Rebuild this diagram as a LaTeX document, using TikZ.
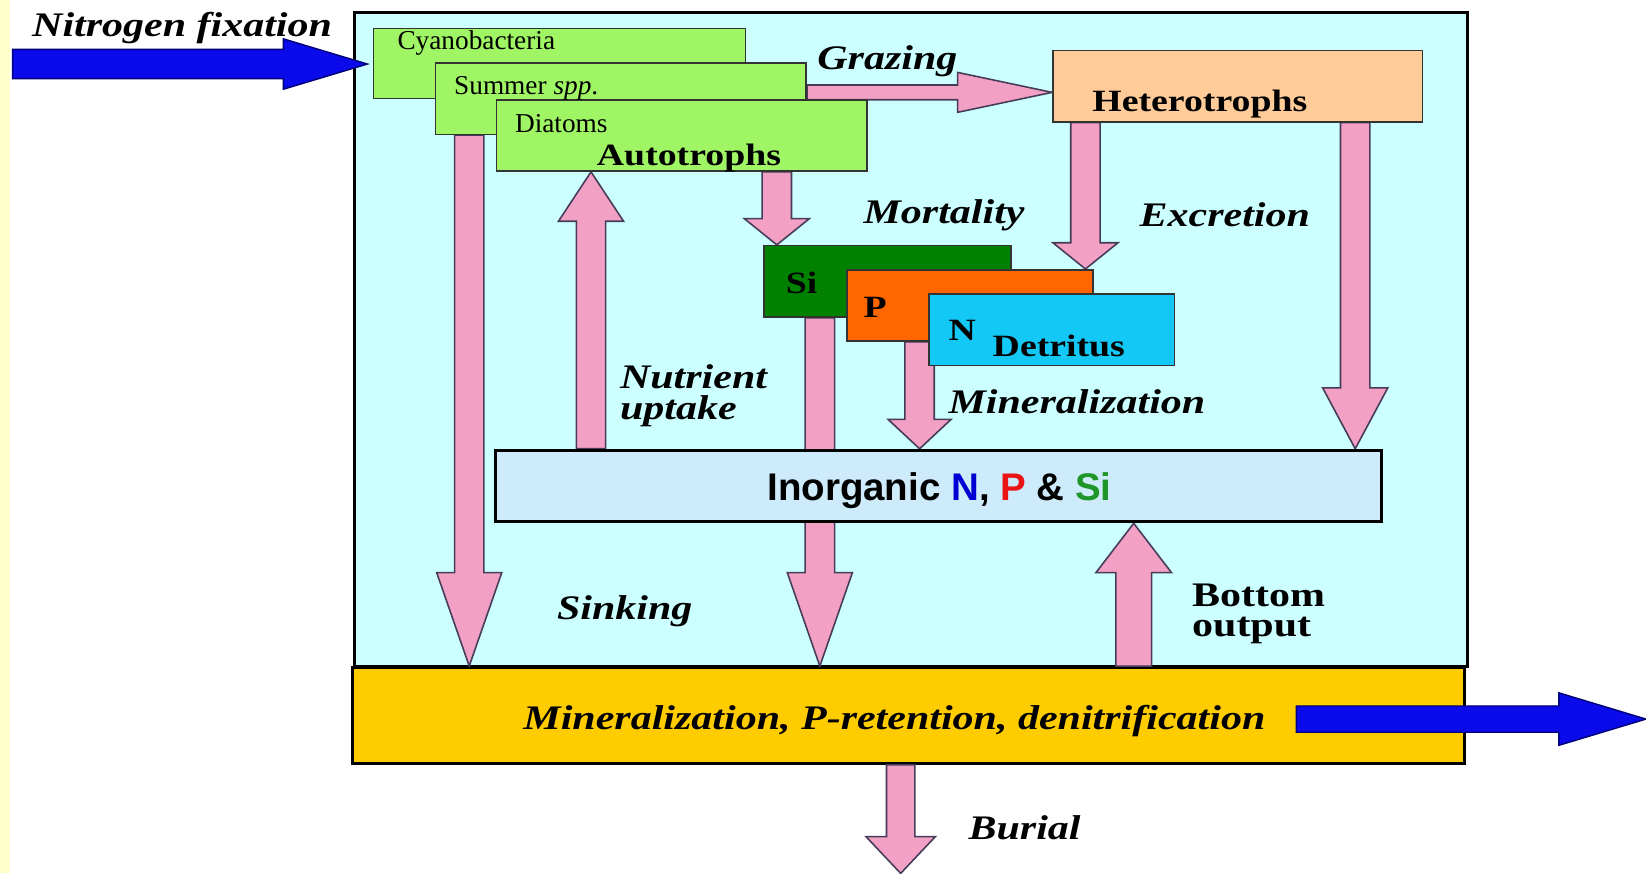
\documentclass[tikz,border=0pt]{standalone}
\usepackage{fontspec}
\setmainfont{Liberation Serif}
\setsansfont{Liberation Sans}
\usetikzlibrary{calc,fit}
\pgfdeclarelayer{bg}\pgfdeclarelayer{arr}
\pgfsetlayers{bg,arr,main}
\definecolor{stripe}{RGB}{255,255,204}
\definecolor{cyanbg}{RGB}{204,255,255}
\definecolor{sedgold}{RGB}{255,204,0}
\definecolor{autogreen}{RGB}{160,245,100}
\definecolor{peach}{RGB}{255,204,153}
\definecolor{sigreen}{RGB}{0,130,0}
\definecolor{porange}{RGB}{255,102,0}
\definecolor{ndet}{RGB}{20,200,245}
\definecolor{inorgbg}{RGB}{205,235,250}
\definecolor{pinkfill}{RGB}{242,160,196}
\definecolor{pinkline}{RGB}{70,60,90}
\definecolor{bluefill}{RGB}{10,10,235}
\definecolor{blueline}{RGB}{0,0,120}
\definecolor{tN}{RGB}{0,0,210}
\definecolor{tP}{RGB}{235,20,20}
\definecolor{tSi}{RGB}{30,150,40}
\newcommand\sq[1]{\scalebox{1}[0.82]{#1}}
% vertical block arrow: x, from, to, signed head offset, head half width, shaft half width, style
\newcommand\varr[7]{%
 \draw[#7] (#1-#6,0 |- #2) -- ($(#1-#6,0 |- #3)+(0,#4)$) -- ($(#1-#5,0 |- #3)+(0,#4)$)
   -- (#1,0 |- #3) -- ($(#1+#5,0 |- #3)+(0,#4)$) -- ($(#1+#6,0 |- #3)+(0,#4)$)
   -- (#1+#6,0 |- #2) -- cycle;}
% horizontal block arrow: y, from, to, signed head offset, head half height, shaft half height, style
\newcommand\harr[7]{%
 \draw[#7] (#2 |- 0,#1-#6) -- ($(#3 |- 0,#1-#6)+(#4,0)$) -- ($(#3 |- 0,#1-#5)+(#4,0)$)
   -- (#3 |- 0,#1) -- ($(#3 |- 0,#1+#5)+(#4,0)$) -- ($(#3 |- 0,#1+#6)+(#4,0)$)
   -- (#2 |- 0,#1+#6) -- cycle;}
\begin{document}
\begin{tikzpicture}[x=0.3pt,y=-0.3pt,
  bigbox/.style={draw=black,line width=0.9pt,inner sep=0pt},
  smbox/.style={draw=black!80,line width=0.45pt,inner sep=0pt},
  pinkarrow/.style={fill=pinkfill,draw=pinkline,line width=0.45pt,line join=miter},
  bluearrow/.style={fill=bluefill,draw=blueline,line width=0.4pt},
  lbl/.style={font=\fontsize{12}{12}\selectfont\bfseries\itshape,inner sep=0pt,anchor=base west},
  bxt/.style={font=\fontsize{10.8}{11}\selectfont\bfseries,inner sep=0pt,anchor=base west},
  smt/.style={font=\fontsize{7.8}{8}\selectfont,inner sep=0pt,anchor=base west},
  upt/.style={font=\fontsize{12}{12}\selectfont\bfseries,inner sep=0pt,anchor=base west}]
\useasboundingbox (0,0) rectangle (1568,832);

\begin{pgfonlayer}{bg}
\fill[white] (0,0) rectangle (1568,832);
\fill[stripe] (0,0) rectangle (10,832);
\node[bigbox,fill=cyanbg,fit={(338,12) (1398,635)}] (main) {};
\node[bigbox,fill=sedgold,fit={(336,636) (1395,727)}] (sed) {};
\end{pgfonlayer}

% boxes
\node[smbox,fill=autogreen,fit={(356,27) (710,94)}] (cyano) {};
\node[smbox,fill=autogreen,fit={(415,60) (768,128)}] (summer) {};
\node[smbox,fill=autogreen,fit={(473,95) (826,163)}] (diatoms) {};
\node[smbox,fill=peach,fit={(1003,48) (1355,116)}] (het) {};
\node[smbox,fill=sigreen,fit={(728,234) (963,302)}] (si) {};
\node[smbox,fill=porange,fit={(807,257) (1041,325)}] (pbox) {};
\node[smbox,fill=ndet,fit={(885,280) (1119,348)}] (nbox) {};
\node[bigbox,fill=inorgbg,fit={(472,429) (1316,497)}] (inorg) {};
\coordinate (burialend) at (858,832);

\begin{pgfonlayer}{arr}
\varr{447}{summer.south}{sed.north}{-89}{31}{14}{pinkarrow}
\varr{563}{inorg.north}{diatoms.south}{47}{31}{14}{pinkarrow}
\varr{740}{diatoms.south}{si.north}{-25}{31}{14}{pinkarrow}
\varr{781}{si.south}{sed.north}{-89}{31}{14}{pinkarrow}
\varr{876}{pbox.south}{inorg.north}{-28}{30}{14}{pinkarrow}
\varr{1034}{het.south}{pbox.north}{-25}{31}{14}{pinkarrow}
\varr{1291}{het.south}{inorg.north}{-58}{31}{14}{pinkarrow}
\varr{1080}{sed.north}{inorg.south}{47}{36}{17}{pinkarrow}
\varr{858}{sed.south}{burialend}{-35}{33}{13.5}{pinkarrow}
\harr{88}{summer.east}{het.west}{-90}{19}{7}{pinkarrow}
\end{pgfonlayer}

% texts in boxes
\node[smt] (tcy) at (378,47) {Cyanobacteria};
\node[smt] (tsu) at (432,90) {Summer \textit{spp}.};
\node[smt] (tdi) at (490,126) {Diatoms};
\node[bxt] (tau) at (568,158) {\sq{Autotrophs}};
\node[bxt] (the) at (1040,106) {\sq{Heterotrophs}};
\node[bxt] (tsi) at (748,280) {\sq{Si}};
\node[bxt] (tp) at (822,302) {\sq{P}};
\node[bxt] (tn) at (903,324) {\sq{N}};
\node[bxt] (tde) at (945,340) {\sq{Detritus}};
\node[font=\fontsize{11}{11}\selectfont\sffamily\bfseries,inner sep=0pt,anchor=base] (tin) at (895,477)
  {Inorganic \textcolor{tN}{N}, \textcolor{tP}{P} \& \textcolor{tSi}{Si}};
\node[font=\fontsize{12}{12}\selectfont\bfseries\itshape,inner sep=0pt,anchor=base] (tsed) at (852,695)
  {\sq{Mineralization, P-retention, denitrification}};

% flow labels
\node[lbl] (lnf) at (30,35) {\sq{Nitrogen fixation}};
\node[lbl] (lgr) at (778,66) {\sq{Grazing}};
\node[lbl] (lmo) at (822,213) {\sq{Mortality}};
\node[lbl] (lex) at (1085,216) {\sq{Excretion}};
\node[lbl] (lnu) at (590,370) {\sq{Nutrient}};
\node[lbl] (lup) at (590,400) {\sq{uptake}};
\node[lbl] (lmi) at (903,394) {\sq{Mineralization}};
\node[lbl] (lsi) at (530,590) {\sq{Sinking}};
\node[upt] (lbo) at (1135,578) {\sq{Bottom}};
\node[upt] (lou) at (1135,606) {\sq{output}};
\node[lbl] (lbu) at (922,800) {\sq{Burial}};

% blue arrows
\coordinate (nfstart) at (12,61);
\coordinate (nfend) at (350,61);
\coordinate (outstart) at (1235,685);
\coordinate (outend) at (1568,685);
\harr{61}{nfstart}{nfend}{-80}{24}{14}{bluearrow}
\harr{685}{outstart}{outend}{-83}{25}{12.5}{bluearrow}
\end{tikzpicture}
\end{document}
